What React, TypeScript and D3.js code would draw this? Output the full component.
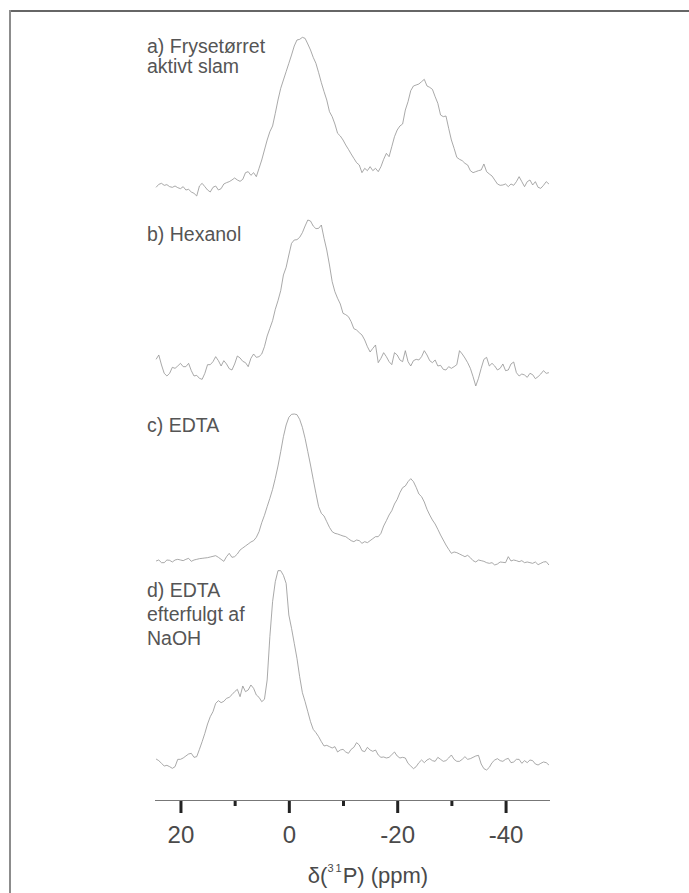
import React, { useEffect, useRef } from 'react';
import * as d3 from 'd3';

// chemical shift grid, ppm (0.5 ppm steps, left to right)
const ppm = d3.range(0, 146).map(i => 24.5 - 0.5 * i);

// intensities (a.u.)
const frysetorret = [
  138, 147, 150, 144, 146, 140, 138, 142, 137, 134, 140, 130, 132, 124, 120, 112, 142, 150, 140, 130,
  124, 138, 142, 130, 134, 148, 152, 155, 160, 166, 160, 156, 162, 182, 185, 174, 182, 170, 195, 220,
  250, 280, 305, 322, 360, 400, 435, 460, 485, 510, 535, 562, 580, 582, 588, 585, 568, 550, 528, 510,
  482, 452, 425, 400, 365, 350, 328, 300, 292, 280, 265, 252, 238, 225, 212, 205, 182, 195, 188, 200,
  188, 195, 185, 200, 222, 240, 230, 260, 290, 310, 322, 328, 370, 395, 428, 442, 445, 448, 455, 462,
  442, 438, 432, 410, 390, 355, 350, 352, 315, 280, 255, 228, 222, 218, 210, 205, 188, 182, 185, 188,
  190, 208, 185, 178, 172, 160, 148, 144, 145, 148, 140, 148, 144, 155, 170, 155, 140, 155, 160, 145,
  155, 138, 135, 144, 155, 148,
];

const hexanol = [
  222, 235, 205, 180, 172, 180, 198, 195, 202, 210, 200, 200, 210, 188, 172, 174, 165, 162, 180, 206,
  206, 215, 230, 218, 202, 218, 208, 194, 190, 208, 232, 226, 216, 212, 200, 225, 238, 228, 230, 238,
  260, 292, 315, 338, 372, 398, 428, 475, 498, 535, 570, 580, 581, 588, 602, 622, 640, 637, 622, 614,
  615, 625, 585, 550, 505, 455, 425, 405, 388, 360, 356, 350, 335, 314, 310, 302, 295, 280, 260, 244,
  255, 265, 212, 225, 242, 230, 215, 206, 242, 235, 220, 215, 248, 215, 202, 218, 222, 220, 230, 248,
  235, 218, 212, 220, 202, 204, 192, 190, 200, 195, 200, 206, 248, 238, 226, 212, 195, 170, 142, 165,
  195, 222, 228, 202, 210, 202, 190, 195, 208, 188, 190, 208, 214, 182, 172, 178, 175, 168, 180, 176,
  164, 170, 178, 188, 180, 182,
];

const edta = [
  187, 190, 182, 182, 190, 189, 184, 190, 192, 190, 188, 192, 195, 186, 190, 192, 194, 195, 196, 197,
  199, 201, 203, 198, 192, 186, 200, 210, 198, 200, 208, 220, 226, 232, 238, 244, 248, 258, 275, 302,
  324, 350, 375, 402, 435, 472, 515, 560, 595, 618, 627, 628, 626, 612, 588, 555, 515, 475, 432, 390,
  350, 330, 322, 305, 288, 275, 270, 268, 265, 262, 260, 254, 248, 245, 250, 248, 240, 245, 242, 248,
  254, 260, 260, 270, 292, 308, 325, 338, 358, 372, 392, 407, 412, 425, 434, 425, 408, 388, 380, 364,
  342, 325, 310, 298, 282, 265, 250, 235, 222, 210, 214, 212, 208, 204, 200, 204, 197, 188, 184, 190,
  188, 186, 182, 180, 182, 175, 178, 184, 183, 182, 200, 187, 190, 188, 185, 188, 182, 184, 182, 180,
  184, 176, 180, 184, 185, 175,
];

const edtaNaoh = [
  73, 68, 60, 52, 54, 50, 45, 50, 72, 72, 76, 82, 88, 90, 78, 80, 102, 125, 150, 178,
  200, 215, 240, 248, 242, 246, 255, 258, 266, 275, 282, 260, 292, 275, 280, 295, 285, 265, 258, 245,
  252, 310, 440, 545, 605, 638, 638, 624, 600, 505, 465, 420, 375, 320, 272, 245, 215, 185, 162, 152,
  140, 125, 112, 114, 110, 106, 110, 94, 100, 102, 94, 90, 102, 108, 122, 115, 98, 95, 108, 100,
  96, 100, 85, 78, 79, 76, 78, 86, 94, 82, 76, 78, 76, 60, 52, 44, 50, 62, 70, 62,
  70, 74, 68, 66, 78, 72, 66, 68, 76, 85, 72, 66, 66, 72, 80, 72, 74, 78, 82, 84,
  58, 44, 40, 48, 62, 70, 74, 68, 66, 72, 75, 62, 64, 72, 72, 60, 68, 62, 70, 68,
  58, 55, 60, 64, 62, 55,
];

const series = [
  { label: ['a) Frysetørret', 'aktivt slam'], values: frysetorret },
  { label: ['b) Hexanol'], values: hexanol },
  { label: ['c) EDTA'], values: edta },
  { label: ['d) EDTA', 'efterfulgt af', 'NaOH'], values: edtaNaoh },
];

const majorTicks = [20, 0, -20, -40];
const minorTicks = [10, -10, -30];

// layout
const W = 689;
const H = 893;
const panelTop = [0, 200, 390, 550];
const labelBaseline = [53, 241, 432, 597];
const labelLeading = [20, 20, 20, 24];
const axisY = 800;
const font = '"Liberation Sans", Arial, sans-serif';

const x = d3.scaleLinear().domain([24.7, -48.2]).range([155, 550]);
const y = d3.scaleLinear().domain([0, 700]).range([233.33, 0]);

const line = d3
  .line<number>()
  .x((d, i) => x(ppm[i]))
  .y(d => y(d));

const App = () => {
  const axisRef = useRef<SVGGElement>(null);

  useEffect(() => {
    const g = d3.select(axisRef.current);
    g.selectAll('*').remove();

    // minor ticks, no labels
    const minor = g.append('g').call(
      d3.axisBottom(x).tickValues(minorTicks).tickSize(6).tickSizeOuter(0).tickFormat(() => '')
    );
    minor.select('.domain').remove();
    minor.selectAll('.tick line').attr('stroke', '#222').attr('stroke-width', 3);

    // major ticks with labels (plain hyphen for negatives, like the original)
    const major = g.append('g').call(
      d3.axisBottom(x).tickValues(majorTicks).tickSize(13).tickSizeOuter(0).tickFormat(d => String(d))
    );
    major.select('.domain').remove();
    major.selectAll('.tick line').attr('stroke', '#222').attr('stroke-width', 3);
    major
      .selectAll('.tick text')
      .attr('y', 43)
      .attr('dy', 0)
      .attr('fill', '#4a4a4a')
      .style('font-family', font)
      .style('font-size', '24px');

    // axis line
    g.append('line')
      .attr('x1', x.range()[0])
      .attr('x2', x.range()[1])
      .attr('y1', 0.5)
      .attr('y2', 0.5)
      .attr('stroke', '#777')
      .attr('stroke-width', 1);
  }, []);

  return (
    <svg
      width={W}
      height={H}
      style={{ position: 'absolute', left: 0, top: 0, background: '#fff' }}
    >
      {/* frame */}
      <line x1={9} x2={W} y1={11} y2={11} stroke="#333" strokeWidth={1.5} />
      <line x1={10} x2={10} y1={10} y2={H} stroke="#8c8c8c" strokeWidth={2} />

      {series.map((s, k) => (
        <g key={k}>
          <path
            transform={`translate(0,${panelTop[k]})`}
            d={line(s.values) || ''}
            fill="none"
            stroke="#939393"
            strokeWidth={0.8}
          />
          <text fill="#555" fontFamily={font} fontSize={19.5}>
            {s.label.map((t, j) => (
              <tspan key={j} x={147} y={labelBaseline[k] + j * labelLeading[k]}>
                {t}
              </tspan>
            ))}
          </text>
        </g>
      ))}

      <g ref={axisRef} transform={`translate(0,${axisY})`} />

      <text x={368} y={883} textAnchor="middle" fill="#4a4a4a" fontFamily={font} fontSize={22}>
        δ(
        <tspan fontSize={11} dy={-11}>3</tspan>
        <tspan fontSize={11} dx={2}>1</tspan>
        <tspan dy={11} dx={1}>P) (ppm)</tspan>
      </text>
    </svg>
  );
};

export default App;
